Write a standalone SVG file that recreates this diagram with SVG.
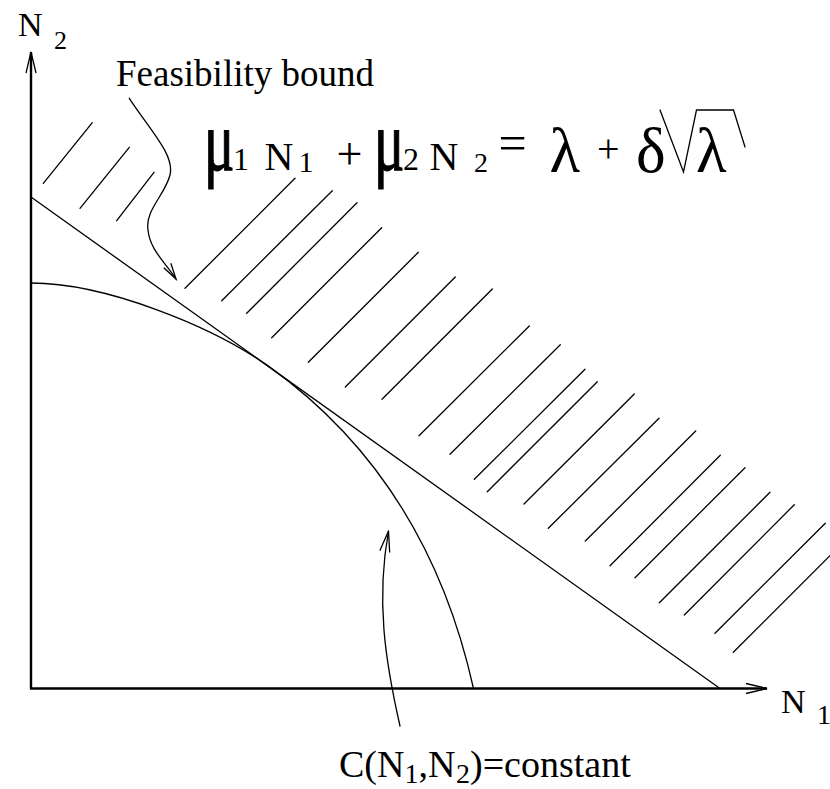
<svg xmlns="http://www.w3.org/2000/svg" width="830" height="789" viewBox="0 0 830 789">
<style>
.ln{fill:none;stroke:#000;stroke-width:1.3;stroke-linecap:round}
.ax{fill:none;stroke:#000;stroke-width:2.4}
.t{font-family:"Liberation Serif","Times New Roman",serif;fill:#000}
.mu{stroke:#000;stroke-width:1.2}
</style>
<defs>
<marker id="arrowL" markerUnits="userSpaceOnUse" viewBox="-22 -6 24 12" refX="0" refY="0" markerWidth="24" markerHeight="12" orient="auto" overflow="visible">
<path d="M-21,-5 L0,0 L-21,5" fill="none" stroke="#000" stroke-width="1.3"/>
</marker>
<marker id="arrowS" markerUnits="userSpaceOnUse" viewBox="-17 -5 19 10" refX="0" refY="0" markerWidth="19" markerHeight="10" orient="auto" overflow="visible">
<path d="M-16,-4.2 L0,0 L-16,4.2" fill="none" stroke="#000" stroke-width="1.3"/>
</marker>
</defs>
<rect width="830" height="789" fill="#fff"/>

<g id="hatching" class="ln">
<path d="M43.3,183.3 L92.3,122.7 M80,208.3 L129.3,147.3 M116.7,220.7 L154,172.3
M185,288.3 L295,178.3 M221.7,300.7 L332.3,190.7 M246.7,313.3 L357,202.7 M271.7,337.7 L381.7,227.7
M308.3,362.3 L418.3,252.3 M345.3,387 L455.3,277 M382,399.3 L492.3,289 M419,435.7 L529.3,326
M450,454.3 L560.3,344.7 M474.3,479.3 L585,369.3 M487.3,491.7 L597.3,381.7 M524,504 L634.3,394
M548.3,528.3 L659,418.3 M585.3,541 L695.7,431 M610,565.7 L720.3,455.3 M635,577.7 L745,467.7
M659.3,602.7 L770,492.3 M684.3,615 L794.3,504.7 M715,633.3 L825.3,523.3 M733.3,652.3 L843.3,542.3"/>
</g>

<g id="feasibility-bound-line" class="ln">
<path d="M31,197 L720,688.5"/>
</g>

<g id="cost-curve" class="ln">
<path d="M31,283 C106,283 213,326.8 268,365.9 C338,415.8 433.5,508.5 473.5,688.5"/>
</g>

<g id="axes">
<path class="ax" d="M31,689 L31,52" marker-end="url(#arrowL)"/>
<path class="ax" d="M30,688.5 L767,688.5" marker-end="url(#arrowL)"/>
</g>

<g id="connectors" class="ln">
<path d="M129.3,98.3 C150,130 175,155 170,175 C165,195 145,210 148,230 C150,250 165,262 176,279" marker-end="url(#arrowS)"/>
<path d="M400,726 C385,660 376,600 388.5,531" marker-end="url(#arrowL)"/>
</g>

<g id="label-N2">
<text class="t" x="18" y="36" font-size="34">N<tspan x="54" y="49" font-size="26">2</tspan></text>
</g>
<g id="label-N1">
<text class="t" x="781" y="713" font-size="34">N<tspan x="817" y="724" font-size="28">1</tspan></text>
</g>
<g id="label-feasibility">
<text class="t" x="116" y="86" font-size="37">Feasibility bound</text>
</g>
<g id="label-cost">
<text class="t" x="339" y="777" font-size="38">C(N<tspan x="404.5" y="783" font-size="28">1</tspan><tspan x="418.5" y="777" font-size="38">,N</tspan><tspan x="456" y="783" font-size="28">2</tspan><tspan x="470" y="777" font-size="38">)=constant</tspan></text>
</g>

<g id="formula" class="t">
<text class="mu" font-size="86" transform="translate(204,170) scale(0.66,1)">μ</text>
<text x="233" y="170" font-size="32">1</text>
<text x="264.5" y="170" font-size="40">N</text>
<text x="298.5" y="172" font-size="30">1</text>
<text x="336.6" y="169" font-size="46">+</text>
<text class="mu" font-size="86" transform="translate(374,170) scale(0.66,1)">μ</text>
<text x="403" y="170" font-size="32">2</text>
<text x="429.5" y="170" font-size="40">N</text>
<text x="474" y="172" font-size="28">2</text>
<text x="498.5" y="160" font-size="50">=</text>
<text x="549.5" y="171.7" font-size="63">λ</text>
<text x="597" y="162" font-size="40">+</text>
<text x="636" y="171.7" font-size="63">δ</text>
<path class="ln" d="M660,110 L683.5,172 L696.5,110 L733.5,110 L745,147"/>
<text x="696" y="171.7" font-size="63">λ</text>
</g>
</svg>
